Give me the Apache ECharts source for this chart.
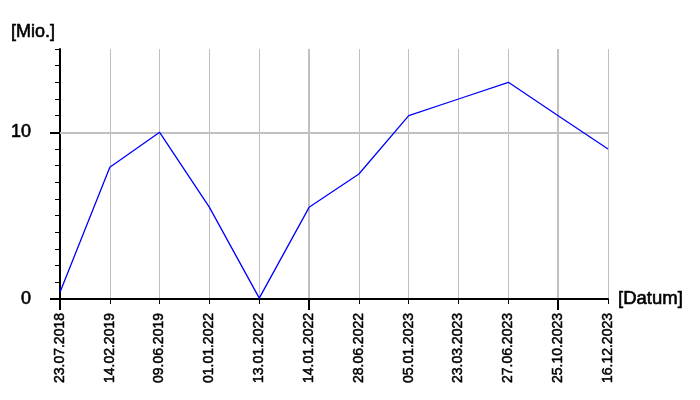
<!DOCTYPE html>
<html><head><meta charset="utf-8">
<script src="https://cdn.jsdelivr.net/npm/echarts@6/dist/echarts.min.js"></script>
<style>html,body{margin:0;padding:0;background:#fff}#c{width:700px;height:400px}</style>
</head><body><div id="c"></div>
<script>
const categories = ['23.07.2018','14.02.2019','09.06.2019','01.01.2022','13.01.2022','14.01.2022','28.06.2022','05.01.2023','23.03.2023','27.06.2023','25.10.2023','16.12.2023'];
const values = [0.4, 7.9, 10.0, 5.5, 0.05, 5.5, 7.5, 11.0, 12.0, 13.0, 11.0, 9.0];
const yLabels = [0, 10];
const yMin = 0, yMax = 15;
const FONT = '"Liberation Sans", Arial, sans-serif';
const heavy = {textBorderColor: '#000', textBorderWidth: 0.6};

const chart = echarts.init(document.getElementById('c'), null, {renderer: 'canvas'});
chart.setOption({
  animation: false,
  backgroundColor: '#fff',
  grid: {left: 60, right: 92, top: 49, bottom: 101, containLabel: false},
  xAxis: [{
    type: 'category', data: categories, boundaryGap: false,
    name: '[Datum]', nameLocation: 'end', nameGap: 10,
    nameTextStyle: Object.assign({fontFamily: FONT, fontSize: 18.5, color: '#000', verticalAlign: 'middle', padding: [0,0,6,0]}, heavy),
    axisLine: {show: true, lineStyle: {color: '#000', width: 2}},
    axisTick: {show: true, interval: 0, length: 5, lineStyle: {color: '#000', width: 1}},
    axisLabel: Object.assign({interval: 0, rotate: 90, margin: 14, fontFamily: FONT, fontSize: 14, color: '#000'}, {textBorderColor: '#000', textBorderWidth: 0.5}),
    splitLine: {show: true, interval: 0, lineStyle: {color: '#c0c0c0', width: 1}}
  }, {
    type: 'category', data: categories, boundaryGap: false, position: 'bottom',
    axisLine: {show: false},
    axisTick: {show: true, interval: function(i){return i % 5 === 0;}, length: 11, lineStyle: {color: '#000', width: 2}},
    axisLabel: {show: false},
    splitLine: {show: true, interval: function(i){return i % 5 === 0 && i > 0;}, lineStyle: {color: '#c0c0c0', width: 2}}
  }],
  yAxis: [{
    type: 'value', min: yMin, max: yMax, interval: 1,
    name: '[Mio.]', nameLocation: 'end', nameGap: 8,
    nameTextStyle: Object.assign({fontFamily: FONT, fontSize: 18, color: '#000', align: 'right', padding: [0,5,0,0]}, heavy),
    axisLine: {show: true, lineStyle: {color: '#000', width: 2}},
    axisTick: {show: true, length: 5, lineStyle: {color: '#000', width: 1}},
    axisLabel: {show: false},
    splitLine: {show: false}
  }, {
    type: 'value', min: yMin, max: yMax, interval: 10, position: 'left',
    axisLine: {show: false},
    axisTick: {show: true, length: 10, customValues: yLabels, lineStyle: {color: '#000', width: 2}},
    axisLabel: Object.assign({show: true, customValues: yLabels, margin: 29, fontFamily: FONT, fontSize: 18, color: '#000'}, heavy),
    splitLine: {show: false}
  }],
  series: [{
    type: 'line', data: values, xAxisIndex: 0, yAxisIndex: 0,
    symbol: 'none', lineStyle: {color: '#0000ff', width: 1.3},
    markLine: {
      silent: true, symbol: 'none', label: {show: false},
      lineStyle: {color: '#c0c0c0', width: 2, type: 'solid'},
      data: [{yAxis: 10}]
    },
    z: 5
  }]
});
</script>
</body></html>
